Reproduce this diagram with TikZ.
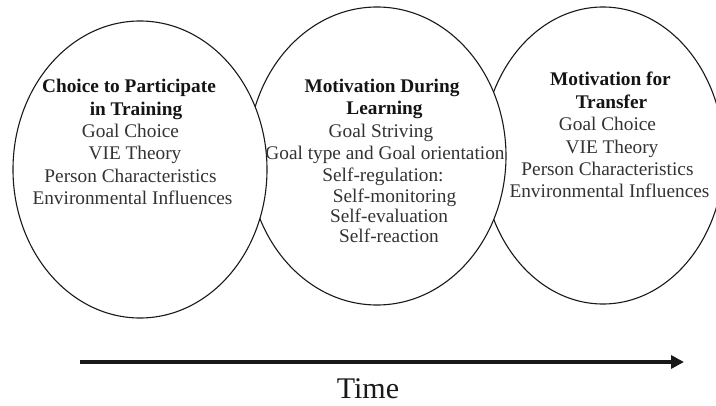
\documentclass[tikz,border=0pt]{standalone}
\usepackage{fontspec}
\setmainfont{Liberation Serif}
\usetikzlibrary{shapes.geometric,arrows.meta}
\begin{document}
\begin{tikzpicture}[x=1pt,y=-1pt,
  ell/.style={draw=black!90, line width=1.1pt, fill=white, ellipse, inner sep=0pt},
  head/.style={anchor=base, inner sep=0pt, font=\fontsize{19.3}{22}\selectfont\bfseries, text=black!92},
  item/.style={anchor=base, inner sep=0pt, font=\fontsize{19.3}{22}\selectfont, text=black!80},
  timearrow/.style={line width=3.6pt, black!90, -{Triangle[length=13pt,width=13pt]}}]
\useasboundingbox (0,0) rectangle (716,406);
\fill[white] (0,0) rectangle (716,406);
\clip (0,0) rectangle (716,406);
% ellipses (right drawn first so the others cover it)
\node[ell, minimum width=242pt, minimum height=297pt] (e3) at (603,155.5) {};
\node[ell, minimum width=258pt, minimum height=298pt] (e2) at (377,156) {};
\node[ell, minimum width=254pt, minimum height=297pt] (e1) at (140,169.5) {};
% left block
\node[head] (l1) at (129,93) {Choice to Participate};
\node[head] (l2) at (136,116) {in Training};
\node[item] (l3) at (130.5,138) {Goal Choice};
\node[item] (l4) at (135,160) {VIE Theory};
\node[item] (l5) at (130.5,183) {Person Characteristics};
\node[item] (l6) at (132.5,205) {Environmental Influences};
% middle block
\node[head] (m1) at (382,93) {Motivation During};
\node[head] (m2) at (384.5,115) {Learning};
\node[item] (m3) at (381,138) {Goal Striving};
\node[item] (m4) at (385,160) {Goal type and Goal orientation};
\node[item] (m5) at (383,182) {Self-regulation:};
\node[item] (m6) at (394.5,203) {Self-monitoring};
\node[item] (m7) at (389,223) {Self-evaluation};
\node[item] (m8) at (389,243) {Self-reaction};
% right block
\node[head] (r1) at (610.5,86) {Motivation for};
\node[head] (r2) at (611.5,109) {Transfer};
\node[item] (r3) at (607.5,131) {Goal Choice};
\node[item] (r4) at (612,154) {VIE Theory};
\node[item] (r5) at (607.5,176) {Person Characteristics};
\node[item] (r6) at (609.5,198) {Environmental Influences};
% time arrow
\coordinate (ta) at (80,362);
\coordinate (tb) at (684,362);
\draw[timearrow] (ta) -- (tb);
\node[anchor=base, inner sep=0pt, font=\fontsize{30}{34}\selectfont, text=black!90] (time) at (368,399) {Time};
\end{tikzpicture}
\end{document}
